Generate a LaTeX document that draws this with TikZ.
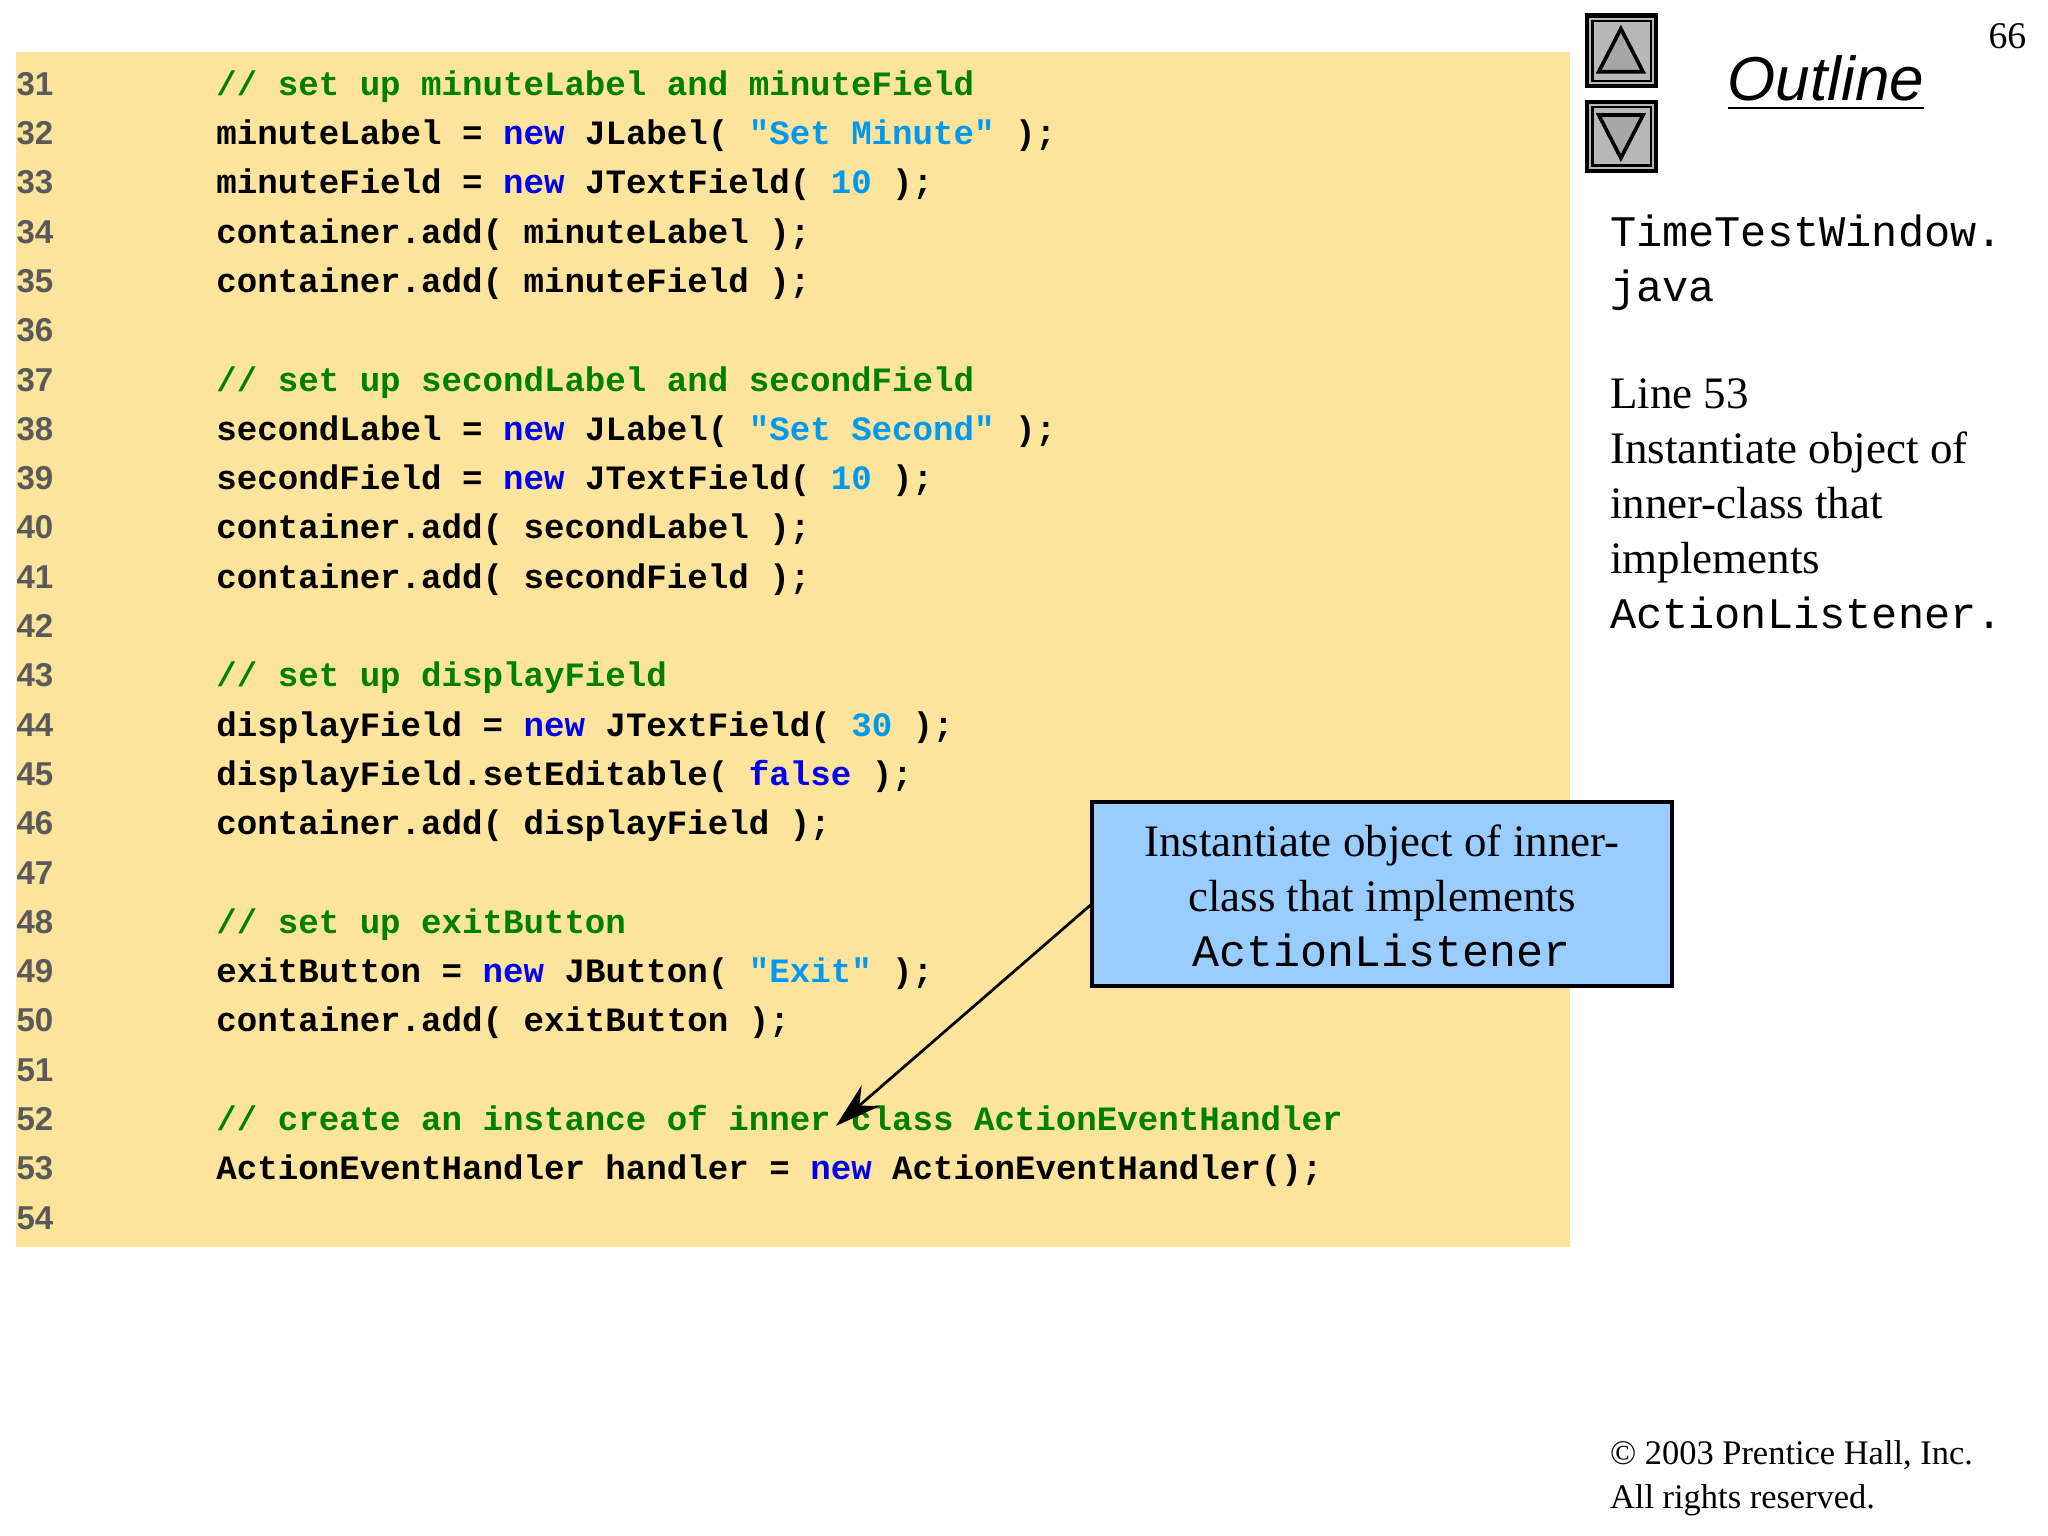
\documentclass[tikz,border=0pt]{standalone}
\usepackage{fontspec}
\usetikzlibrary{arrows.meta}
\setmainfont{Liberation Serif}
\newfontfamily\codef{Liberation Mono}
\newfontfamily\sansf{Liberation Sans}
\definecolor{bgy}{HTML}{FDE49D}
\definecolor{cmt}{HTML}{008000}
\definecolor{kw}{HTML}{0000EE}
\definecolor{lit}{HTML}{0099EE}
\definecolor{lnum}{HTML}{5A5A5A}
\definecolor{callfill}{HTML}{99CCFF}
\definecolor{btn}{HTML}{B8B8B8}
\newcommand{\K}[1]{\textcolor{kw}{#1}}
\newcommand{\Lt}[1]{\textcolor{lit}{#1}}
\newcommand{\Cm}[1]{\textcolor{cmt}{#1}}
\begin{document}
\begin{tikzpicture}[x=0.01cm,y=-0.01cm,
  code/.style={anchor=base west,inner sep=0,font=\codef\bfseries\fontsize{7.43}{9}\selectfont},
  num/.style={anchor=base west,inner sep=0,text=lnum,font=\sansf\bfseries\fontsize{7.2}{9}\selectfont},
  side/.style={anchor=north west,inner sep=0,align=left,font=\fontsize{9.8}{12}\selectfont}]
\useasboundingbox (0,0) rectangle (1568,1176);
\fill[bgy] (12,40) rectangle (1202,955);
\foreach \i in {31,...,54}{
  \node[num] (n\i) at (12,{65+(\i-31)*37.74+8}) {\i};}
\def\ly#1{{65+(#1-31)*37.74+8}}
\node[code] (c31) at (165,\ly{31}) {\Cm{// set up minuteLabel and minuteField}};
\node[code] (c32) at (165,\ly{32}) {minuteLabel = \K{new} JLabel( \Lt{"Set Minute"} );};
\node[code] (c33) at (165,\ly{33}) {minuteField = \K{new} JTextField( \Lt{10} );};
\node[code] (c34) at (165,\ly{34}) {container.add( minuteLabel );};
\node[code] (c35) at (165,\ly{35}) {container.add( minuteField );};
\node[code] (c37) at (165,\ly{37}) {\Cm{// set up secondLabel and secondField}};
\node[code] (c38) at (165,\ly{38}) {secondLabel = \K{new} JLabel( \Lt{"Set Second"} );};
\node[code] (c39) at (165,\ly{39}) {secondField = \K{new} JTextField( \Lt{10} );};
\node[code] (c40) at (165,\ly{40}) {container.add( secondLabel );};
\node[code] (c41) at (165,\ly{41}) {container.add( secondField );};
\node[code] (c43) at (165,\ly{43}) {\Cm{// set up displayField}};
\node[code] (c44) at (165,\ly{44}) {displayField = \K{new} JTextField( \Lt{30} );};
\node[code] (c45) at (165,\ly{45}) {displayField.setEditable( \K{false} );};
\node[code] (c46) at (165,\ly{46}) {container.add( displayField );};
\node[code] (c48) at (165,\ly{48}) {\Cm{// set up exitButton}};
\node[code] (c49) at (165,\ly{49}) {exitButton = \K{new} JButton( \Lt{"Exit"} );};
\node[code] (c50) at (165,\ly{50}) {container.add( exitButton );};
\node[code] (c52) at (165,\ly{52}) {\Cm{// create an instance of inner class ActionEventHandler}};
\node[code] (c53) at (165,\ly{53}) {ActionEventHandler handler = \K{new} ActionEventHandler();};
% buttons
\draw[fill=btn,line width=1pt] (1215,12) rectangle (1268,66);
\draw[line width=0.6pt] (1219,16) rectangle (1264,62);
\draw[fill=btn!70!gray,line width=0.8pt] (1241,22) -- (1224,55) -- (1258,55) -- cycle;
\draw[fill=btn,line width=1pt] (1215,78) rectangle (1268,131);
\draw[line width=0.6pt] (1219,82) rectangle (1264,127);
\draw[fill=btn!70!gray,line width=0.8pt] (1224,88) -- (1258,88) -- (1241,121) -- cycle;
\node[anchor=base west,inner sep=0,font=\sansf\itshape\fontsize{13.5}{16}\selectfont] (outline) at (1322,77) {\underline{Outline}};
\node[anchor=base east,inner sep=0,font=\fontsize{8.2}{10}\selectfont] (pg) at (1552,37) {66};
\node[side] (file) at (1232,164) {{\codef\fontsize{9.5}{12}\selectfont TimeTestWindow.}\\{\codef\fontsize{9.5}{12}\selectfont java}};
\node[side] (note) at (1232,289) {Line 53\\Instantiate object of\\inner-class that\\implements\\{\codef\fontsize{9.5}{12}\selectfont ActionListener.}};
\node[anchor=north west,inner sep=0,align=left,font=\fontsize{7.5}{9.6}\selectfont] (copy) at (1232,1102) {\textcopyright{} 2003 Prentice Hall, Inc.\\All rights reserved.};
% callout
\path[draw,fill=callfill,line width=0.8pt] (836,614) rectangle (1280,755);
\node[align=center,inner sep=0,font=\fontsize{9.8}{12}\selectfont] (callout) at (1058,686) {Instantiate object of inner-\\class that implements\\{\codef ActionListener}};
\coordinate (src) at (836,692);
\coordinate (tip) at (640,862);
\draw[-{Stealth[length=10pt,width=6pt]},line width=0.6pt] (src) -- (tip);
\end{tikzpicture}
\end{document}
